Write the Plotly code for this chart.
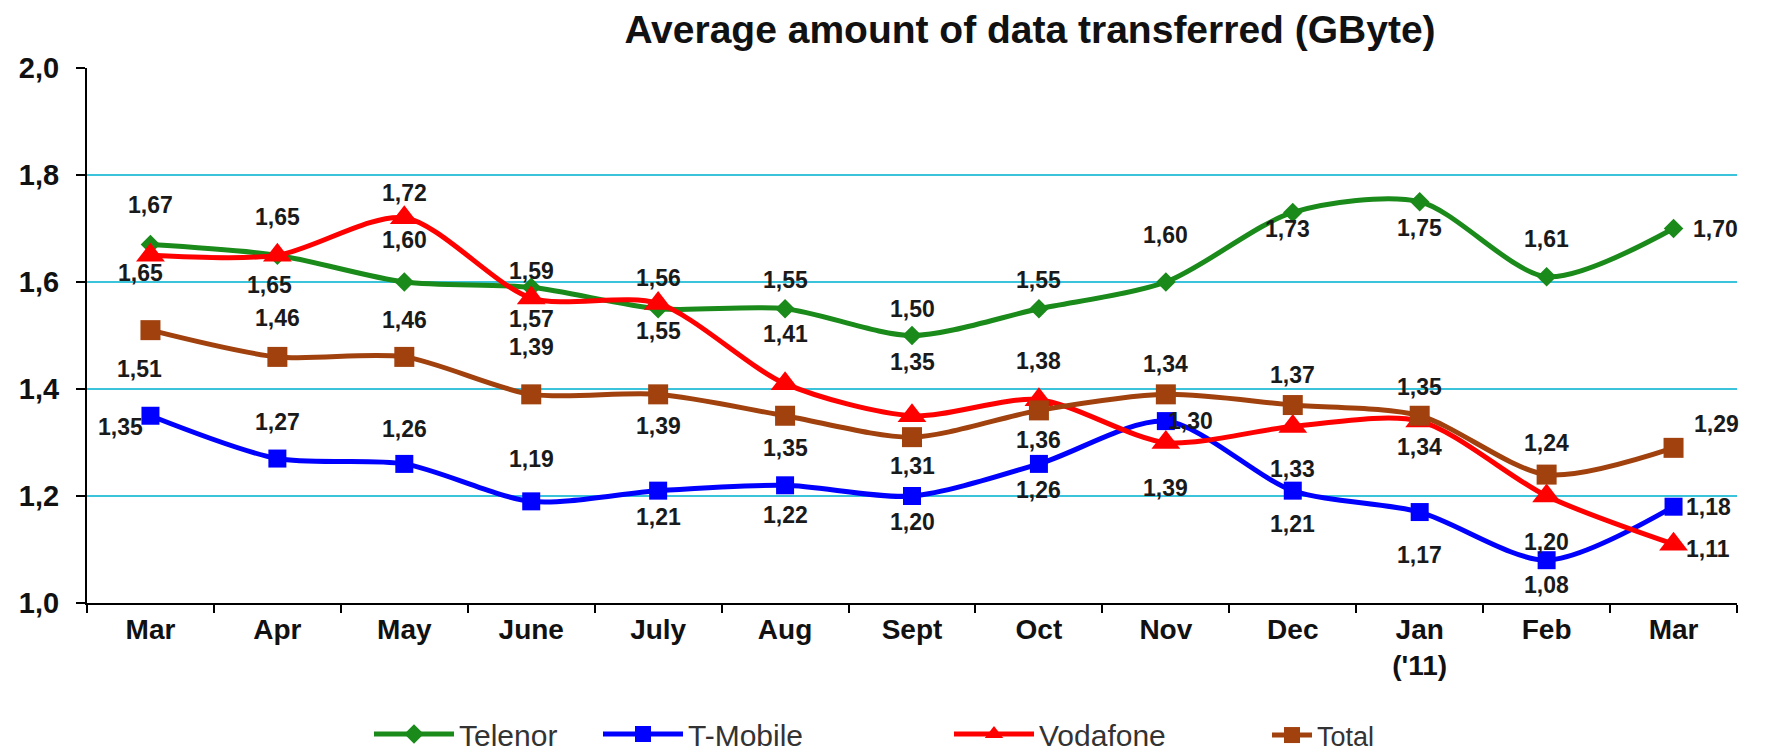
import plotly.graph_objects as go

# ---------------- data ----------------
months = ["Mar", "Apr", "May", "June", "July", "Aug", "Sept", "Oct", "Nov", "Dec", "Jan<br>('11)", "Feb", "Mar"]

telenor = [1.67, 1.65, 1.60, 1.59, 1.55, 1.55, 1.50, 1.55, 1.60, 1.73, 1.75, 1.61, 1.70]
tmobile = [1.35, 1.27, 1.26, 1.19, 1.21, 1.22, 1.20, 1.26, 1.34, 1.21, 1.17, 1.08, 1.18]
vodafone = [1.65, 1.65, 1.72, 1.57, 1.56, 1.41, 1.35, 1.38, 1.30, 1.33, 1.34, 1.20, 1.11]
total = [1.51, 1.46, 1.46, 1.39, 1.39, 1.35, 1.31, 1.36, 1.39, 1.37, 1.35, 1.24, 1.29]

telenor_lbl = ["1,67", "1,65", "1,60", "1,59", "1,55", "1,55", "1,50", "1,55", "1,60", "1,73", "1,75", "1,61", "1,70"]
tmobile_lbl = ["1,35", "1,27", "1,26", "1,19", "1,21", "1,22", "1,20", "1,26", "1,30", "1,21", "1,17", "1,08", "1,18"]
vodafone_lbl = ["1,65", "1,65", "1,72", "1,57", "1,56", "1,41", "1,35", "1,38", "1,39", "1,33", "1,34", "1,20", "1,11"]
total_lbl = ["1,51", "1,46", "1,46", "1,39", "1,39", "1,35", "1,31", "1,36", "1,34", "1,37", "1,35", "1,24", "1,29"]

# ---------------- label placement (pixel offsets, screen coords: +down) ----------------
telenor_dx = [0, 0, 0, 0, 0, 0, 0, 0, 0, -5, 0, 0, 42]
telenor_dy = [-40, -38, -42, -16, 22, -29, -27, -29, -47, 17, 26, -38, 0]
tmobile_dx = [-30, 0, 0, 0, 0, 0, 0, 0, 25, 0, 0, 0, 35]
tmobile_dy = [11, -37, -35, -42, 26, 30, 26, 26, 0, 33, 43, 25, 0]
vodafone_dx = [-10, -8, 0, 0, 0, 0, 0, 0, 0, 0, 0, 0, 34]
vodafone_dy = [18, 30, -25, 21, -25, -50, -54, -39, 45, 43, 26, 46, 5]
total_dx = [-11, 0, 0, 0, 0, 0, 0, 0, 0, 0, 0, 0, 43]
total_dy = [39, -39, -37, -47, 32, 32, 29, 30, -30, -30, -29, -32, -24]

x = list(range(len(months)))
boundaries = [i - 0.5 for i in range(len(months) + 1)]

series = [
    ("Telenor", telenor, telenor_lbl, telenor_dx, telenor_dy, "#1a8a1a", "diamond", 15, "legend"),
    ("T-Mobile", tmobile, tmobile_lbl, tmobile_dx, tmobile_dy, "#0000ff", "square", 18, "legend2"),
    ("Vodafone", vodafone, vodafone_lbl, vodafone_dx, vodafone_dy, "#ff0000", "triangle-up", 25, "legend3"),
    ("Total", total, total_lbl, total_dx, total_dy, "#a0410e", "square", 20, "legend4"),
]

SANS = "Liberation Sans, Arial, sans-serif"

fig = go.Figure()
annotations = []
for name, vals, lbls, dxs, dys, color, sym, msize, leg in series:
    fig.add_trace(go.Scatter(
        x=x, y=vals, name=name, mode="lines+markers",
        line=dict(color=color, width=5, shape="spline", smoothing=0.8),
        marker=dict(symbol=sym, size=msize, color=color),
        legend=leg,
    ))
    for xi, v, t, dx, dy in zip(x, vals, lbls, dxs, dys):
        annotations.append(dict(
            x=xi, y=v, xref="x", yref="y", text="<b>%s</b>" % t, showarrow=False,
            xshift=dx, yshift=-dy,
            font=dict(family=SANS, size=23, color="#1a1a1a"),
        ))


def leg(xpx, size, iw):
    return dict(orientation="h", xref="container", yref="container",
                x=xpx / 1766, y=0.0, xanchor="left", yanchor="bottom",
                bgcolor="rgba(0,0,0,0)", itemwidth=iw,
                font=dict(family=SANS, size=size, color="#333333"))


fig.update_layout(
    width=1766, height=752,
    paper_bgcolor="white", plot_bgcolor="white",
    margin=dict(l=79, r=37, t=60, b=157),
    separators=",.",
    title=dict(text="<b>Average amount of data transferred (GByte)</b>",
               x=1022 / 1766, xanchor="center", y=1 - 21 / 752, yanchor="middle",
               font=dict(family=SANS, size=39, color="#111111")),
    showlegend=True,
    legend=leg(361, 30, 80),
    legend2=leg(590, 30, 80),
    legend3=leg(941, 30, 80),
    legend4=leg(1259, 27, 40),
    annotations=annotations,
    xaxis=dict(
        range=[-0.5, 12.5], tickvals=x, ticktext=["<b>%s</b>" % m for m in months],
        automargin=False,
        showgrid=False, zeroline=False, showline=True, linecolor="black", linewidth=2,
        ticks="", ticklen=0,
        minor=dict(tickmode="array", tickvals=boundaries, ticks="outside", ticklen=8,
                   tickcolor="black", tickwidth=2, showgrid=False),
        tickfont=dict(family=SANS, size=28, color="#111111"),
    ),
    yaxis=dict(
        range=[1.0, 2.0], dtick=0.2, tickformat=".1f",
        automargin=False,
        showgrid=True, gridcolor="#3cc3dc", gridwidth=2, zeroline=False,
        showline=True, linecolor="black", linewidth=2,
        ticks="outside", ticklen=9, tickcolor="black", tickwidth=2,
        ticklabelstandoff=11,
        tickfont=dict(family=SANS, size=29, color="#111111", weight="bold"),
    ),
)

fig.write_html("out.html")
